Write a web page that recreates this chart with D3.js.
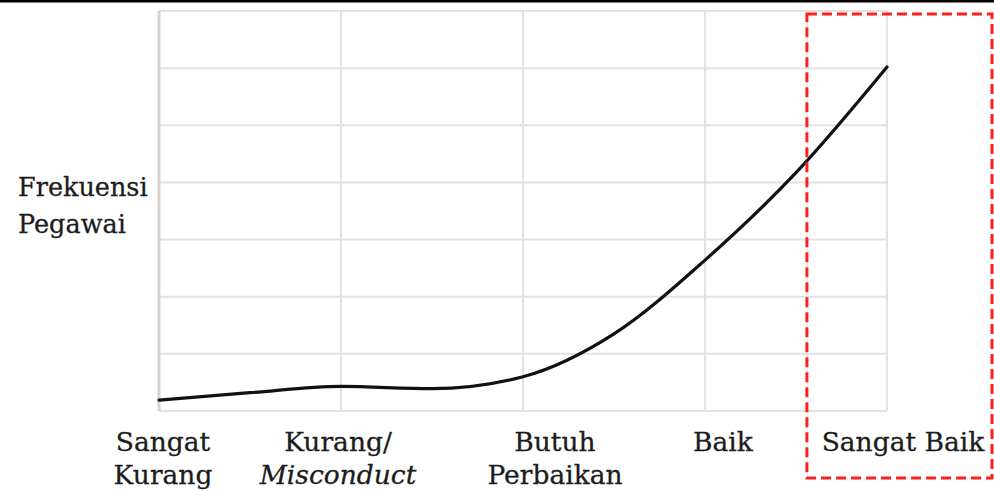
<!DOCTYPE html>
<head>
  <meta charset="utf-8">
  <title>Frekuensi Pegawai</title>
  <script src="https://cdn.jsdelivr.net/npm/d3@7"></script>
  <style>
    body { margin: 0; background: #fff; }
    text { font-family: "DejaVu Serif", serif; fill: #1c1c1c; stroke: #1c1c1c; stroke-width: 0.3px; }
  </style>
</head>
<body>
<div id="chart"></div>
<script>
// kategori kinerja (sumbu x) dan baris label
const categories = ['Sangat Kurang', 'Kurang/ Misconduct', 'Butuh Perbaikan', 'Baik', 'Sangat Baik'];
const labelLines = [
  [{t: 'Sangat'}, {t: 'Kurang'}],
  [{t: 'Kurang/'}, {t: 'Misconduct', italic: true}],
  [{t: 'Butuh'}, {t: 'Perbaikan'}],
  [{t: 'Baik'}],
  [{t: 'Sangat Baik'}]
];
// posisi kurva (indeks kategori, termasuk setengah langkah) dan frekuensi
const curveX = [0, 0.5, 1, 1.5, 2, 2.5, 3, 3.5, 4];
const curveY = [0.19, 0.32, 0.43, 0.39, 0.60, 1.35, 2.64, 4.17, 6.02];
const yTicks = [0, 1, 2, 3, 4, 5, 6, 7];

const width = 994, height = 491;
const margin = { left: 159, right: 107, top: 11, bottom: 80 };

const svg = d3.select('#chart').append('svg')
  .attr('width', width)
  .attr('height', height);

const x = d3.scaleLinear().domain([0, categories.length - 1])
  .range([margin.left, width - margin.right]);
const y = d3.scaleLinear().domain([0, 7])
  .range([height - margin.bottom, margin.top]);

// garis hitam di atas
svg.append('rect')
  .attr('x', 0).attr('y', 0)
  .attr('width', width).attr('height', 2.5)
  .attr('fill', '#000');

// grid
const grid = svg.append('g');
grid.selectAll('.h')
  .data(yTicks)
  .enter().append('line')
  .attr('x1', x(0)).attr('x2', x(4))
  .attr('y1', d => y(d)).attr('y2', d => y(d))
  .attr('stroke', '#e2e2e2')
  .attr('stroke-width', 2);
grid.selectAll('.v')
  .data(d3.range(categories.length))
  .enter().append('line')
  .attr('x1', d => x(d)).attr('x2', d => x(d))
  .attr('y1', y(7)).attr('y2', y(0))
  .attr('stroke', d => d === 0 ? '#d4d4d4' : '#e2e2e2')
  .attr('stroke-width', d => d === 0 ? 3 : 2);

// kurva
const line = d3.line()
  .x(d => x(d[0]))
  .y(d => y(d[1]))
  .curve(d3.curveMonotoneX);
svg.append('path')
  .datum(d3.zip(curveX, curveY))
  .attr('d', line)
  .attr('fill', 'none')
  .attr('stroke', '#111')
  .attr('stroke-width', 3.2)
  .attr('stroke-linecap', 'round');

// label sumbu x (digeser sedikit dari garis grid seperti aslinya)
const labelShift = [4, -3, 32, 18, 16];
const labels = svg.selectAll('.xl')
  .data(labelLines)
  .enter().append('text')
  .attr('text-anchor', 'middle')
  .style('font-size', '26.5px');
labels.each(function(lines, i) {
  const t = d3.select(this);
  lines.forEach((l, j) => {
    t.append('tspan')
      .attr('x', x(i) + labelShift[i])
      .attr('y', 451 + j * 33)
      .style('font-style', l.italic ? 'italic' : 'normal')
      .text(l.t);
  });
});

// label sumbu y
const yl = svg.append('text').style('font-size', '25.5px');
['Frekuensi', 'Pegawai'].forEach((s, j) => {
  yl.append('tspan').attr('x', 18).attr('y', 196 + j * 37).text(s);
});

// kotak putus-putus merah untuk "Sangat Baik"
svg.append('rect')
  .attr('x', x(3.56)).attr('y', 14)
  .attr('width', 992 - x(3.56)).attr('height', 464)
  .attr('fill', 'none')
  .attr('stroke', '#ff1f1f')
  .attr('stroke-width', 3)
  .attr('stroke-dasharray', '10,5');
</script>
</body>
